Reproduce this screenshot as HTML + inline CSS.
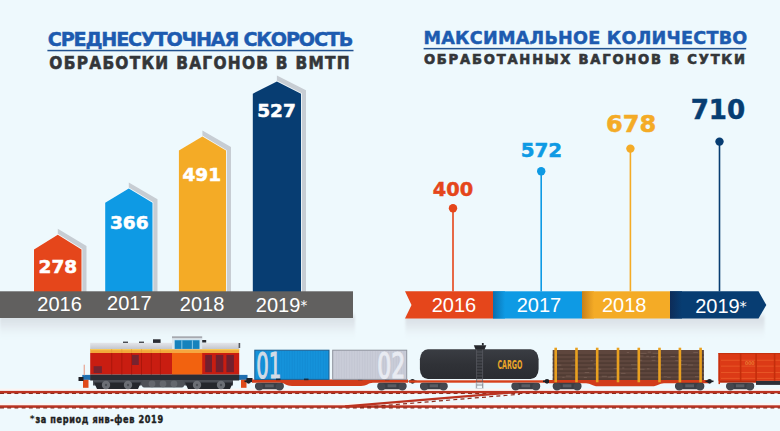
<!DOCTYPE html>
<html><head><meta charset="utf-8"><title>Infographic</title>
<style>
html,body{margin:0;padding:0}
body{width:780px;height:431px;overflow:hidden;background:#eef9fd;position:relative}
svg{position:absolute;left:0;top:0;display:block}
.t{font-family:"DejaVu Sans","Liberation Sans",sans-serif;font-weight:700}
.r{font-family:"Liberation Sans","DejaVu Sans",sans-serif;font-weight:400}
</style></head><body>
<svg width="780" height="431" viewBox="0 0 780 431">
<defs>
<linearGradient id="bandsh" x1="0" y1="0" x2="0" y2="1">
<stop offset="0" stop-color="#d6dde3"/><stop offset="0.4" stop-color="#e2e9ee"/><stop offset="1" stop-color="#eef9fd" stop-opacity="0"/></linearGradient>
<linearGradient id="gB" x1="0" y1="0" x2="1" y2="0"><stop offset="0" stop-color="#0b6fae"/><stop offset="1" stop-color="#0e9ae4"/></linearGradient>
<linearGradient id="gY" x1="0" y1="0" x2="1" y2="0"><stop offset="0" stop-color="#c8801a"/><stop offset="1" stop-color="#f4ab26"/></linearGradient>
<linearGradient id="gN" x1="0" y1="0" x2="1" y2="0"><stop offset="0" stop-color="#0d2c58"/><stop offset="1" stop-color="#073d72"/></linearGradient>
<linearGradient id="roof" x1="0" y1="0" x2="0" y2="1"><stop offset="0" stop-color="#e4e6ea"/><stop offset="1" stop-color="#c4c7ce"/></linearGradient>
<linearGradient id="tank" x1="0" y1="0" x2="0" y2="1"><stop offset="0" stop-color="#3a3d43"/><stop offset="0.5" stop-color="#303237"/><stop offset="1" stop-color="#2a2c31"/></linearGradient>
<filter id="blur" x="-10%" y="-50%" width="120%" height="200%"><feGaussianBlur stdDeviation="0.8 2"/></filter>
</defs>

<g class="t">
<text x="47.8" y="46.4" font-size="19.2" fill="#1d5bb0" stroke="#1d5bb0" stroke-width="0.45" letter-spacing="-1.2">СРЕДНЕСУТОЧНАЯ СКОРОСТЬ</text>
<rect x="47.4" y="49.8" width="306.1" height="1.5" fill="#22528f"/>
<text x="49.3" y="68.8" font-family="DejaVu Sans Condensed" font-size="17.1" fill="#333639" stroke="#333639" stroke-width="0.55" letter-spacing="1.28">ОБРАБОТКИ ВАГОНОВ В ВМТП</text>
<text x="423.5" y="44.1" font-size="17.6" fill="#1d5bb0" stroke="#1d5bb0" stroke-width="0.45" letter-spacing="0.25">МАКСИМАЛЬНОЕ КОЛИЧЕСТВО</text>
<rect x="423.6" y="47.9" width="322.6" height="1.5" fill="#22528f"/>
<text x="423.9" y="63.7" font-family="DejaVu Sans Condensed" font-size="14.6" fill="#333639" stroke="#333639" stroke-width="0.6" letter-spacing="1.78">ОБРАБОТАННЫХ ВАГОНОВ В СУТКИ</text>
</g>
<rect x="0" y="315" width="355" height="26" fill="url(#bandsh)" filter="url(#blur)"/>
<polygon points="57.8,228.8 86.5,246.0 86.5,292 81.5,292 81.5,249.5 57.8,234.8" fill="#c7cdd3"/>
<polygon points="34,292 34,249.5 57.8,234.8 81.5,249.5 81.5,292" fill="#e5461b" stroke="#f3fafd" stroke-width="1.6"/>
<polygon points="34,292 34,249.5 57.8,234.8 81.5,249.5 81.5,292" fill="#e5461b"/>
<text class="t" x="57.85" y="272.9" font-size="17.1" fill="#fff" stroke="#fff" stroke-width="0.5" text-anchor="middle" textLength="38.6" lengthAdjust="spacingAndGlyphs">278</text>
<polygon points="128.8,182.4 157.5,199.3 157.5,292 152.5,292 152.5,202.8 128.8,188.4" fill="#c7cdd3"/>
<polygon points="105.2,292 105.2,202.8 128.8,188.4 152.5,202.8 152.5,292" fill="#0e9ae4" stroke="#f3fafd" stroke-width="1.6"/>
<polygon points="105.2,292 105.2,202.8 128.8,188.4 152.5,202.8 152.5,292" fill="#0e9ae4"/>
<text class="t" x="129.3" y="228.8" font-size="17.1" fill="#fff" stroke="#fff" stroke-width="0.5" text-anchor="middle" textLength="38.6" lengthAdjust="spacingAndGlyphs">366</text>
<polygon points="202.4,130.5 231.0,147.1 231.0,292 226,292 226,150.6 202.4,136.5" fill="#c7cdd3"/>
<polygon points="178.9,292 178.9,150.6 202.4,136.5 226,150.6 226,292" fill="#f4ab26" stroke="#f3fafd" stroke-width="1.6"/>
<polygon points="178.9,292 178.9,150.6 202.4,136.5 226,150.6 226,292" fill="#f4ab26"/>
<text class="t" x="201.8" y="180.7" font-size="17.1" fill="#fff" stroke="#fff" stroke-width="0.5" text-anchor="middle" textLength="38.6" lengthAdjust="spacingAndGlyphs">491</text>
<polygon points="276.9,75.5 306.0,90.2 306.0,292 301,292 301,93.7 276.9,81.5" fill="#c7cdd3"/>
<polygon points="252.8,292 252.8,93.7 276.9,81.5 301,93.7 301,292" fill="#073d72" stroke="#f3fafd" stroke-width="1.6"/>
<polygon points="252.8,292 252.8,93.7 276.9,81.5 301,93.7 301,292" fill="#073d72"/>
<text class="t" x="276.55" y="116.8" font-size="17.1" fill="#fff" stroke="#fff" stroke-width="0.5" text-anchor="middle" textLength="38.6" lengthAdjust="spacingAndGlyphs">527</text>
<rect x="0" y="291.3" width="353" height="26.7" fill="#61605f"/>
<text class="r" x="37.3" y="310.5" font-size="20" fill="#fff">2016</text>
<text class="r" x="107.1" y="309.6" font-size="20" fill="#fff">2017</text>
<text class="r" x="179.8" y="311.3" font-size="20" fill="#fff">2018</text>
<text class="r" x="255.8" y="311.7" font-size="20" fill="#fff">2019</text>
<text x="300.6" y="309.5" font-family="DejaVu Sans" font-size="13.5" fill="#fff">*</text>
<rect x="405.5" y="315.5" width="359" height="26" fill="url(#bandsh)" filter="url(#blur)"/>
<rect x="452.2" y="208.2" width="1.6" height="83.3" fill="#e5461b"/>
<circle cx="453" cy="208.2" r="4.2" fill="#e5461b"/>
<text class="t" x="453" y="195.6" font-size="19" fill="#e5461b" stroke="#e5461b" stroke-width="0.5" text-anchor="middle" textLength="40.3" lengthAdjust="spacingAndGlyphs">400</text>
<rect x="540.4" y="171.2" width="1.6" height="120.3" fill="#0e9ae4"/>
<circle cx="541.2" cy="171.2" r="4.2" fill="#0e9ae4"/>
<text class="t" x="541.4" y="156.9" font-size="19.3" fill="#0e9ae4" stroke="#0e9ae4" stroke-width="0.5" text-anchor="middle" textLength="41.5" lengthAdjust="spacingAndGlyphs">572</text>
<rect x="629.6" y="148.6" width="1.6" height="142.9" fill="#f4ab26"/>
<circle cx="630.4" cy="148.6" r="4.2" fill="#f4ab26"/>
<text class="t" x="631.1" y="131.9" font-size="23.5" fill="#f4ab26" stroke="#f4ab26" stroke-width="0.5" text-anchor="middle" textLength="50.3" lengthAdjust="spacingAndGlyphs">678</text>
<rect x="718.7" y="141.6" width="1.6" height="149.9" fill="#073d72"/>
<circle cx="719.5" cy="141.6" r="4.2" fill="#073d72"/>
<text class="t" x="717.9" y="119.3" font-size="27" fill="#073d72" stroke="#073d72" stroke-width="0.5" text-anchor="middle" textLength="54.5" lengthAdjust="spacingAndGlyphs">710</text>
<polygon points="405,291.3 493,291.3 493,318.5 405,318.5 411.5,305" fill="#e5461b"/>
<rect x="493" y="291.3" width="89" height="27.2" fill="#0e9ae4"/><rect x="493" y="291.3" width="12" height="27.2" fill="url(#gB)"/>
<rect x="582" y="291.3" width="88" height="27.2" fill="#f4ab26"/><rect x="582" y="291.3" width="12" height="27.2" fill="url(#gY)"/>
<polygon points="670,291.3 758.5,291.3 766.3,305 758.5,318.5 670,318.5" fill="#073d72"/><rect x="670" y="291.3" width="12" height="27.2" fill="url(#gN)"/>
<text class="r" x="431.7" y="311.7" font-size="20" fill="#fff">2016</text>
<text class="r" x="516.7" y="311.7" font-size="20" fill="#fff">2017</text>
<text class="r" x="602" y="311.7" font-size="20" fill="#fff">2018</text>
<text class="r" x="695.2" y="312.6" font-size="20" fill="#fff">2019</text>
<text x="739.6" y="311" font-family="DejaVu Sans" font-size="14.5" fill="#fff">*</text>
<rect x="0" y="388.7" width="780" height="2.1" fill="#fcf4f2"/>
<rect x="0" y="390.9" width="780" height="2.5" fill="#bb3321"/>
<line x1="0" y1="393.5" x2="780" y2="393.5" stroke="#8c2a1c" stroke-width="1.2" stroke-dasharray="4 3.2"/>
<line x1="0" y1="394.59999999999997" x2="780" y2="394.59999999999997" stroke="#fbfdff" stroke-width="1.6" stroke-dasharray="3 4.2" stroke-dashoffset="-4.1"/>
<rect x="0" y="403.1" width="780" height="2.1" fill="#fcf4f2"/>
<rect x="0" y="405.3" width="780" height="2.5" fill="#bb3321"/>
<line x1="0" y1="407.90000000000003" x2="780" y2="407.90000000000003" stroke="#8c2a1c" stroke-width="1.2" stroke-dasharray="4 3.2"/>
<line x1="0" y1="409.0" x2="780" y2="409.0" stroke="#fbfdff" stroke-width="1.6" stroke-dasharray="3 4.2" stroke-dashoffset="-4.1"/>
<line x1="345" y1="406.4" x2="515" y2="392.2" stroke="#bb3321" stroke-width="2.2"/>
<line x1="360" y1="407.5" x2="520" y2="394.2" stroke="#8c2a1c" stroke-width="1.2" stroke-dasharray="4 3.2"/>
<g>
<rect x="82.3" y="374.9" width="8.5" height="5" fill="#1f6fb0"/>
<rect x="83" y="379.8" width="5.5" height="8" fill="#e04a1a"/>
<rect x="83.6" y="364.7" width="1.4" height="10.5" fill="#e8b0a0"/>
<rect x="78.5" y="377" width="5" height="4" fill="#1e2026"/>
<rect x="239" y="374.9" width="8.5" height="5" fill="#1f6fb0"/>
<rect x="241" y="379.8" width="5.5" height="8" fill="#e04a1a"/>
<rect x="246.5" y="378" width="6" height="4" fill="#1e2026"/>
<rect x="90.2" y="342.8" width="149" height="6.2" fill="url(#roof)"/>
<rect x="90.2" y="349" width="149" height="4" fill="#f2a93a"/>
<rect x="90.2" y="349" width="149" height="1.2" fill="#f7c85a"/>
<rect x="90.2" y="353" width="149" height="21.6" fill="#c91d11"/>
<rect x="111.3" y="349" width="0.8" height="4" fill="#e59030" opacity="0.6"/>
<rect x="111.3" y="353" width="0.9" height="21.6" fill="#a9160b"/>
<rect x="121.4" y="349" width="0.8" height="4" fill="#e59030" opacity="0.6"/>
<rect x="121.4" y="353" width="0.9" height="21.6" fill="#a9160b"/>
<rect x="131.2" y="349" width="0.8" height="4" fill="#e59030" opacity="0.6"/>
<rect x="131.2" y="353" width="0.9" height="21.6" fill="#a9160b"/>
<rect x="141" y="349" width="0.8" height="4" fill="#e59030" opacity="0.6"/>
<rect x="141" y="353" width="0.9" height="21.6" fill="#a9160b"/>
<rect x="150.8" y="349" width="0.8" height="4" fill="#e59030" opacity="0.6"/>
<rect x="150.8" y="353" width="0.9" height="21.6" fill="#a9160b"/>
<rect x="159.9" y="349" width="0.8" height="4" fill="#e59030" opacity="0.6"/>
<rect x="159.9" y="353" width="0.9" height="21.6" fill="#a9160b"/>
<rect x="93.6" y="366.2" width="8.3" height="6.8" fill="#76232f"/>
<rect x="132" y="354.9" width="6.8" height="10.1" fill="#76232f"/>
<rect x="205.2" y="354.9" width="6.800000000000011" height="17.3" fill="#72202e"/>
<rect x="215.8" y="354.9" width="7.5" height="17.3" fill="#72202e"/>
<rect x="226.4" y="354.9" width="7.5" height="17.3" fill="#72202e"/>
<rect x="172" y="336.3" width="30.2" height="2.2" fill="#a7a9af"/>
<rect x="172" y="338.5" width="30.2" height="11" fill="#dde7ee"/>
<rect x="174.3" y="339.8" width="25.6" height="9.4" fill="#a6d8f0"/>
<rect x="174.8" y="340.3" width="24.6" height="8.6" fill="#1682bc"/>
<rect x="181.4" y="340.3" width="0.9" height="8.6" fill="#8fd0f0"/><rect x="191.9" y="340.3" width="0.9" height="8.6" fill="#8fd0f0"/>
<rect x="172" y="349.5" width="30.2" height="3.5" fill="#f6a640"/>
<rect x="172" y="353" width="30.2" height="21.6" fill="#f2620f"/>
<rect x="202.2" y="340" width="4" height="2.5" fill="#2a2c32"/>
<rect x="123" y="341.6" width="5" height="1.3" fill="#3a3c42"/><rect x="139" y="341.6" width="5" height="1.3" fill="#3a3c42"/>
<rect x="153" y="339.3" width="7.6" height="3.6" fill="#2a2c32"/>
<rect x="238.6" y="343" width="1.6" height="5" fill="#55585e"/>
<rect x="90.2" y="374.6" width="149" height="5.9" fill="#2a2d34"/>
<rect x="93" y="380" width="140" height="5.5" fill="#4a4d54"/>
<polygon points="94,382.5 141,382.5 138,389 97,389" fill="#25272c"/>
<polygon points="185,382.5 233,382.5 230,389 188,389" fill="#25272c"/>
<rect x="142" y="380" width="42" height="7.5" rx="2" fill="#4f5258"/>
<circle cx="152" cy="383.8" r="3.4" fill="#64676d"/>
<circle cx="163" cy="383.8" r="3.4" fill="#64676d"/>
<circle cx="174" cy="383.8" r="3.4" fill="#64676d"/>
<circle cx="106" cy="385" r="4.2" fill="#6c6f75"/>
<circle cx="106" cy="385" r="1.2" fill="#4a4d53"/>
<circle cx="128" cy="385" r="4.2" fill="#6c6f75"/>
<circle cx="128" cy="385" r="1.2" fill="#4a4d53"/>
<circle cx="197" cy="385" r="4.2" fill="#6c6f75"/>
<circle cx="197" cy="385" r="1.2" fill="#4a4d53"/>
<circle cx="221" cy="385" r="4.2" fill="#6c6f75"/>
<circle cx="221" cy="385" r="1.2" fill="#4a4d53"/>
</g>
<rect x="244.5" y="380.5" width="8" height="1.6" fill="#1e2026"/>
<circle cx="248.5" cy="381.3" r="2.4" fill="#1e2026"/>
<path d="M252,379.6 H408 V382.8 H373 C368,383 367,386 361,386 H292 C286,386 285,383 280,382.8 H252 Z" fill="#d23c1a"/>
<rect x="255" y="382.8" width="28.80000000000001" height="6.5" rx="3" fill="#3b3e45"/>
<circle cx="259.25" cy="386.85" r="3.75" fill="#44474e"/>
<circle cx="279.55" cy="386.85" r="3.75" fill="#44474e"/>
<rect x="265.08" y="384.3" width="8.640000000000002" height="3" fill="#5a5d64"/>
<rect x="377.3" y="382.8" width="29.30000000000001" height="6.5" rx="3" fill="#3b3e45"/>
<circle cx="381.55" cy="386.85" r="3.75" fill="#44474e"/>
<circle cx="402.35" cy="386.85" r="3.75" fill="#44474e"/>
<rect x="387.555" y="384.3" width="8.790000000000003" height="3" fill="#5a5d64"/>
<rect x="254.8" y="350.2" width="74.2" height="29.2" fill="#1592da" stroke="#1d5c8e" stroke-width="1"/>
<rect x="258.1" y="351" width="0.5" height="28" fill="#1285cb" opacity="0.7"/>
<rect x="260.7" y="351" width="0.5" height="28" fill="#1285cb" opacity="0.7"/>
<rect x="263.3" y="351" width="0.5" height="28" fill="#1285cb" opacity="0.7"/>
<rect x="265.9" y="351" width="0.5" height="28" fill="#1285cb" opacity="0.7"/>
<rect x="268.5" y="351" width="0.5" height="28" fill="#1285cb" opacity="0.7"/>
<rect x="271.1" y="351" width="0.5" height="28" fill="#1285cb" opacity="0.7"/>
<rect x="273.7" y="351" width="0.5" height="28" fill="#1285cb" opacity="0.7"/>
<rect x="276.3" y="351" width="0.5" height="28" fill="#1285cb" opacity="0.7"/>
<rect x="278.9" y="351" width="0.5" height="28" fill="#1285cb" opacity="0.7"/>
<rect x="281.5" y="351" width="0.5" height="28" fill="#1285cb" opacity="0.7"/>
<rect x="284.1" y="351" width="0.5" height="28" fill="#1285cb" opacity="0.7"/>
<rect x="286.7" y="351" width="0.5" height="28" fill="#1285cb" opacity="0.7"/>
<rect x="289.3" y="351" width="0.5" height="28" fill="#1285cb" opacity="0.7"/>
<rect x="291.9" y="351" width="0.5" height="28" fill="#1285cb" opacity="0.7"/>
<rect x="294.5" y="351" width="0.5" height="28" fill="#1285cb" opacity="0.7"/>
<rect x="297.1" y="351" width="0.5" height="28" fill="#1285cb" opacity="0.7"/>
<rect x="299.7" y="351" width="0.5" height="28" fill="#1285cb" opacity="0.7"/>
<rect x="302.3" y="351" width="0.5" height="28" fill="#1285cb" opacity="0.7"/>
<rect x="304.9" y="351" width="0.5" height="28" fill="#1285cb" opacity="0.7"/>
<rect x="307.5" y="351" width="0.5" height="28" fill="#1285cb" opacity="0.7"/>
<rect x="310.1" y="351" width="0.5" height="28" fill="#1285cb" opacity="0.7"/>
<rect x="312.7" y="351" width="0.5" height="28" fill="#1285cb" opacity="0.7"/>
<rect x="315.3" y="351" width="0.5" height="28" fill="#1285cb" opacity="0.7"/>
<rect x="317.9" y="351" width="0.5" height="28" fill="#1285cb" opacity="0.7"/>
<rect x="320.5" y="351" width="0.5" height="28" fill="#1285cb" opacity="0.7"/>
<rect x="323.1" y="351" width="0.5" height="28" fill="#1285cb" opacity="0.7"/>
<rect x="325.7" y="351" width="0.5" height="28" fill="#1285cb" opacity="0.7"/>
<text x="256.3" y="377.9" font-family="DejaVu Sans Condensed" font-weight="400" font-size="35.7" fill="#d3dbe6" stroke="#d3dbe6" stroke-width="1.1" textLength="25" lengthAdjust="spacingAndGlyphs">01</text>
<rect x="276" y="378.6" width="4.5" height="1.6" fill="#1d2a3a"/>
<rect x="304" y="378.6" width="4.5" height="1.6" fill="#1d2a3a"/>
<rect x="358" y="378.6" width="4.5" height="1.6" fill="#1d2a3a"/>
<rect x="385" y="378.6" width="4.5" height="1.6" fill="#1d2a3a"/>
<rect x="332.7" y="350.2" width="74" height="29.2" fill="#c9ccd8" stroke="#8d919c" stroke-width="1"/>
<rect x="336.1" y="351" width="0.5" height="28" fill="#b9bdca" opacity="0.7"/>
<rect x="338.7" y="351" width="0.5" height="28" fill="#b9bdca" opacity="0.7"/>
<rect x="341.3" y="351" width="0.5" height="28" fill="#b9bdca" opacity="0.7"/>
<rect x="343.9" y="351" width="0.5" height="28" fill="#b9bdca" opacity="0.7"/>
<rect x="346.5" y="351" width="0.5" height="28" fill="#b9bdca" opacity="0.7"/>
<rect x="349.1" y="351" width="0.5" height="28" fill="#b9bdca" opacity="0.7"/>
<rect x="351.7" y="351" width="0.5" height="28" fill="#b9bdca" opacity="0.7"/>
<rect x="354.3" y="351" width="0.5" height="28" fill="#b9bdca" opacity="0.7"/>
<rect x="356.9" y="351" width="0.5" height="28" fill="#b9bdca" opacity="0.7"/>
<rect x="359.5" y="351" width="0.5" height="28" fill="#b9bdca" opacity="0.7"/>
<rect x="362.1" y="351" width="0.5" height="28" fill="#b9bdca" opacity="0.7"/>
<rect x="364.7" y="351" width="0.5" height="28" fill="#b9bdca" opacity="0.7"/>
<rect x="367.3" y="351" width="0.5" height="28" fill="#b9bdca" opacity="0.7"/>
<rect x="369.9" y="351" width="0.5" height="28" fill="#b9bdca" opacity="0.7"/>
<rect x="372.5" y="351" width="0.5" height="28" fill="#b9bdca" opacity="0.7"/>
<rect x="375.1" y="351" width="0.5" height="28" fill="#b9bdca" opacity="0.7"/>
<rect x="377.7" y="351" width="0.5" height="28" fill="#b9bdca" opacity="0.7"/>
<rect x="380.3" y="351" width="0.5" height="28" fill="#b9bdca" opacity="0.7"/>
<rect x="382.9" y="351" width="0.5" height="28" fill="#b9bdca" opacity="0.7"/>
<rect x="385.5" y="351" width="0.5" height="28" fill="#b9bdca" opacity="0.7"/>
<rect x="388.1" y="351" width="0.5" height="28" fill="#b9bdca" opacity="0.7"/>
<rect x="390.7" y="351" width="0.5" height="28" fill="#b9bdca" opacity="0.7"/>
<rect x="393.3" y="351" width="0.5" height="28" fill="#b9bdca" opacity="0.7"/>
<rect x="395.9" y="351" width="0.5" height="28" fill="#b9bdca" opacity="0.7"/>
<rect x="398.5" y="351" width="0.5" height="28" fill="#b9bdca" opacity="0.7"/>
<rect x="401.1" y="351" width="0.5" height="28" fill="#b9bdca" opacity="0.7"/>
<rect x="403.7" y="351" width="0.5" height="28" fill="#b9bdca" opacity="0.7"/>
<text x="377.2" y="377.9" font-family="DejaVu Sans Condensed" font-weight="400" font-size="35.7" fill="#e8ebf2" stroke="#e8ebf2" stroke-width="1.1" textLength="28" lengthAdjust="spacingAndGlyphs">02</text>
<rect x="408.5" y="380.5" width="8" height="1.6" fill="#1e2026"/>
<circle cx="412.5" cy="381.3" r="2.4" fill="#1e2026"/>
<rect x="409" y="380.3" width="143" height="2.4" fill="#d8401a"/>
<rect x="420" y="382.8" width="27.69999999999999" height="6.5" rx="3" fill="#3b3e45"/>
<circle cx="424.25" cy="386.85" r="3.75" fill="#44474e"/>
<circle cx="443.45" cy="386.85" r="3.75" fill="#44474e"/>
<rect x="429.695" y="384.3" width="8.309999999999997" height="3" fill="#5a5d64"/>
<rect x="511.4" y="382.8" width="28.800000000000068" height="6.5" rx="3" fill="#3b3e45"/>
<circle cx="515.65" cy="386.85" r="3.75" fill="#44474e"/>
<circle cx="535.95" cy="386.85" r="3.75" fill="#44474e"/>
<rect x="521.48" y="384.3" width="8.64000000000002" height="3" fill="#5a5d64"/>
<rect x="419.9" y="349.3" width="118.7" height="29.8" rx="8" ry="10" fill="url(#tank)"/>
<path d="M473.8,345.3 H486.3 L484.5,349.8 H475.6 Z" fill="#26282d"/>
<rect x="481.9" y="343" width="1.8" height="2.5" fill="#26282d"/>
<g stroke="#5c5f66" stroke-width="0.7"><line x1="476.6" y1="349.5" x2="476.6" y2="388"/><line x1="482.6" y1="349.5" x2="482.6" y2="388"/>
<line x1="476.6" y1="352" x2="482.6" y2="352"/>
<line x1="476.6" y1="355" x2="482.6" y2="355"/>
<line x1="476.6" y1="358" x2="482.6" y2="358"/>
<line x1="476.6" y1="361" x2="482.6" y2="361"/>
<line x1="476.6" y1="364" x2="482.6" y2="364"/>
<line x1="476.6" y1="367" x2="482.6" y2="367"/>
<line x1="476.6" y1="370" x2="482.6" y2="370"/>
<line x1="476.6" y1="373" x2="482.6" y2="373"/>
<line x1="476.6" y1="376" x2="482.6" y2="376"/>
<line x1="476.6" y1="379" x2="482.6" y2="379"/>
<line x1="476.6" y1="382" x2="482.6" y2="382"/>
<line x1="476.6" y1="385" x2="482.6" y2="385"/>
</g>
<rect x="476" y="383" width="7.2" height="5.5" fill="none" stroke="#c9ccd2" stroke-width="0.8"/>
<text class="t" x="497.4" y="369.2" font-size="12.6" fill="#e9a528" textLength="25" lengthAdjust="spacingAndGlyphs">CARGO</text>
<rect x="543" y="380.5" width="8" height="1.6" fill="#1e2026"/>
<circle cx="547" cy="381.3" r="2.4" fill="#1e2026"/>
<path d="M549,380 H708 V383.2 H664 C659,383.4 658,386.2 652,386.2 H598 C592,386.2 591,383.4 586,383.2 H549 Z" fill="#d23c1a"/>
<rect x="552.7" y="382.8" width="28.799999999999955" height="6.5" rx="3" fill="#3b3e45"/>
<circle cx="556.95" cy="386.85" r="3.75" fill="#44474e"/>
<circle cx="577.25" cy="386.85" r="3.75" fill="#44474e"/>
<rect x="562.78" y="384.3" width="8.639999999999986" height="3" fill="#5a5d64"/>
<rect x="675" y="382.8" width="29.299999999999955" height="6.5" rx="3" fill="#3b3e45"/>
<circle cx="679.25" cy="386.85" r="3.75" fill="#44474e"/>
<circle cx="700.05" cy="386.85" r="3.75" fill="#44474e"/>
<rect x="685.255" y="384.3" width="8.789999999999987" height="3" fill="#5a5d64"/>
<rect x="552.7" y="350" width="151.2" height="30" fill="#5e463d"/>
<rect x="552.7" y="354.6" width="151.2" height="0.9" fill="#45322c"/>
<rect x="552.7" y="358.6" width="151.2" height="0.9" fill="#45322c"/>
<rect x="552.7" y="362.6" width="151.2" height="0.9" fill="#45322c"/>
<rect x="552.7" y="366.6" width="151.2" height="0.9" fill="#45322c"/>
<rect x="552.7" y="370.6" width="151.2" height="0.9" fill="#45322c"/>
<rect x="552.7" y="374.6" width="151.2" height="0.9" fill="#45322c"/>
<rect x="552.7" y="378.6" width="151.2" height="0.9" fill="#45322c"/>
<rect x="587.7" y="367.7" width="5.7" height="0.8" fill="#7d655a" opacity="0.8"/>
<rect x="622.2" y="367.6" width="2.1" height="0.8" fill="#7d655a" opacity="0.8"/>
<rect x="675.3" y="360.3" width="2.8" height="0.8" fill="#7d655a" opacity="0.8"/>
<rect x="657.7" y="368.8" width="3.9" height="0.8" fill="#7d655a" opacity="0.8"/>
<rect x="646.3" y="355.8" width="2.6" height="0.8" fill="#7d655a" opacity="0.8"/>
<rect x="688.2" y="364.6" width="4.7" height="0.8" fill="#7d655a" opacity="0.8"/>
<rect x="562.3" y="376.9" width="2.2" height="0.8" fill="#7d655a" opacity="0.8"/>
<rect x="666.9" y="376.8" width="3.9" height="0.8" fill="#7d655a" opacity="0.8"/>
<rect x="657.9" y="364.6" width="5.7" height="0.8" fill="#7d655a" opacity="0.8"/>
<rect x="610.7" y="376.4" width="5.9" height="0.8" fill="#7d655a" opacity="0.8"/>
<rect x="572.6" y="359.6" width="2.5" height="0.8" fill="#7d655a" opacity="0.8"/>
<rect x="584.7" y="372.2" width="4.5" height="0.8" fill="#7d655a" opacity="0.8"/>
<rect x="596.9" y="368.8" width="4.3" height="0.8" fill="#7d655a" opacity="0.8"/>
<rect x="631.0" y="364.4" width="5.6" height="0.8" fill="#7d655a" opacity="0.8"/>
<rect x="652.6" y="352.8" width="6.0" height="0.8" fill="#7d655a" opacity="0.8"/>
<rect x="651.0" y="356.5" width="3.3" height="0.8" fill="#7d655a" opacity="0.8"/>
<rect x="632.1" y="368.4" width="4.9" height="0.8" fill="#7d655a" opacity="0.8"/>
<rect x="583.8" y="377.0" width="3.1" height="0.8" fill="#7d655a" opacity="0.8"/>
<rect x="571.2" y="364.8" width="6.0" height="0.8" fill="#7d655a" opacity="0.8"/>
<rect x="565.9" y="375.6" width="5.6" height="0.8" fill="#7d655a" opacity="0.8"/>
<rect x="555.9" y="364.7" width="5.5" height="0.8" fill="#7d655a" opacity="0.8"/>
<rect x="559.5" y="368.6" width="3.5" height="0.8" fill="#7d655a" opacity="0.8"/>
<rect x="638.6" y="368.8" width="5.9" height="0.8" fill="#7d655a" opacity="0.8"/>
<rect x="626.8" y="352.0" width="2.3" height="0.8" fill="#7d655a" opacity="0.8"/>
<rect x="640.6" y="352.9" width="5.9" height="0.8" fill="#7d655a" opacity="0.8"/>
<rect x="595.6" y="359.7" width="2.2" height="0.8" fill="#7d655a" opacity="0.8"/>
<rect x="679.7" y="360.0" width="2.6" height="0.8" fill="#7d655a" opacity="0.8"/>
<rect x="678.8" y="364.2" width="4.1" height="0.8" fill="#7d655a" opacity="0.8"/>
<rect x="647.0" y="368.5" width="2.4" height="0.8" fill="#7d655a" opacity="0.8"/>
<rect x="695.0" y="376.3" width="3.7" height="0.8" fill="#7d655a" opacity="0.8"/>
<rect x="658.2" y="356.9" width="3.7" height="0.8" fill="#7d655a" opacity="0.8"/>
<rect x="590.7" y="360.3" width="2.0" height="0.8" fill="#7d655a" opacity="0.8"/>
<rect x="613.6" y="368.0" width="3.5" height="0.8" fill="#7d655a" opacity="0.8"/>
<rect x="639.0" y="355.6" width="4.5" height="0.8" fill="#7d655a" opacity="0.8"/>
<rect x="621.1" y="372.9" width="4.4" height="0.8" fill="#7d655a" opacity="0.8"/>
<rect x="593.7" y="363.5" width="2.2" height="0.8" fill="#7d655a" opacity="0.8"/>
<rect x="651.7" y="359.9" width="3.8" height="0.8" fill="#7d655a" opacity="0.8"/>
<rect x="639.5" y="359.8" width="2.7" height="0.8" fill="#7d655a" opacity="0.8"/>
<rect x="663.7" y="376.4" width="3.2" height="0.8" fill="#7d655a" opacity="0.8"/>
<rect x="608.1" y="376.7" width="5.9" height="0.8" fill="#7d655a" opacity="0.8"/>
<rect x="652.8" y="356.0" width="2.9" height="0.8" fill="#7d655a" opacity="0.8"/>
<rect x="670.4" y="356.0" width="4.7" height="0.8" fill="#7d655a" opacity="0.8"/>
<rect x="647.8" y="351.7" width="3.3" height="0.8" fill="#7d655a" opacity="0.8"/>
<rect x="601.7" y="375.8" width="5.2" height="0.8" fill="#7d655a" opacity="0.8"/>
<rect x="693.3" y="352.0" width="4.6" height="0.8" fill="#7d655a" opacity="0.8"/>
<rect x="682.2" y="363.9" width="5.1" height="0.8" fill="#7d655a" opacity="0.8"/>
<rect x="554.4" y="347.7" width="2.6" height="34.6" fill="#e8a020"/>
<rect x="575.2" y="347.7" width="2.6" height="34.6" fill="#e8a020"/>
<rect x="595.9" y="347.7" width="2.6" height="34.6" fill="#e8a020"/>
<rect x="616.7" y="347.7" width="2.6" height="34.6" fill="#e8a020"/>
<rect x="637.5" y="347.7" width="2.6" height="34.6" fill="#e8a020"/>
<rect x="658.2" y="347.7" width="2.6" height="34.6" fill="#e8a020"/>
<rect x="678.6" y="347.7" width="2.6" height="34.6" fill="#e8a020"/>
<rect x="699.3" y="347.7" width="2.6" height="34.6" fill="#e8a020"/>
<rect x="705.5" y="380.5" width="8" height="1.6" fill="#1e2026"/>
<circle cx="709.5" cy="381.3" r="2.4" fill="#1e2026"/>
<rect x="756" y="380.5" width="24" height="4.4" fill="#2c2f37"/>
<rect x="718.5" y="353.1" width="62" height="27.7" fill="#dc3a16"/>
<rect x="718.5" y="353.1" width="62" height="1" fill="#c2300c"/>
<rect x="721" y="359.8" width="60" height="0.8" fill="#ea5c2a"/>
<rect x="721" y="365.70000000000005" width="60" height="0.8" fill="#ea5c2a"/>
<rect x="721" y="372.1" width="60" height="0.8" fill="#ea5c2a"/>
<rect x="721" y="377.90000000000003" width="60" height="0.8" fill="#ea5c2a"/>
<rect x="739.8000000000001" y="353.1" width="1.6" height="27.7" fill="#c42e0c"/>
<rect x="755.3000000000001" y="353.1" width="1.6" height="27.7" fill="#c42e0c"/>
<rect x="773.8000000000001" y="353.1" width="1.6" height="27.7" fill="#c42e0c"/>
<rect x="718.5" y="353.1" width="1.5" height="31" fill="#c8300e"/>
<rect x="720" y="380.3" width="36" height="2.4" fill="#b82a0c"/>
<rect x="726.1" y="382.8" width="28.100000000000023" height="6.5" rx="3" fill="#3b3e45"/>
<circle cx="730.35" cy="386.85" r="3.75" fill="#44474e"/>
<circle cx="749.95" cy="386.85" r="3.75" fill="#44474e"/>
<rect x="735.9350000000001" y="384.3" width="8.430000000000007" height="3" fill="#5a5d64"/>
<text x="745" y="365" font-size="5" font-family="DejaVu Sans" fill="#f0a040">000</text>
<text class="t" x="29.7" y="422.1" font-size="9.3" fill="#1e1f22">*</text>
<text x="35.4" y="422.8" font-weight="700" font-family="DejaVu Sans Condensed" font-size="10" fill="#1e1f22" stroke="#1e1f22" stroke-width="0.4" letter-spacing="0.7" textLength="128.3" lengthAdjust="spacingAndGlyphs">за период янв-фев 2019</text>
</svg>
</body></html>
